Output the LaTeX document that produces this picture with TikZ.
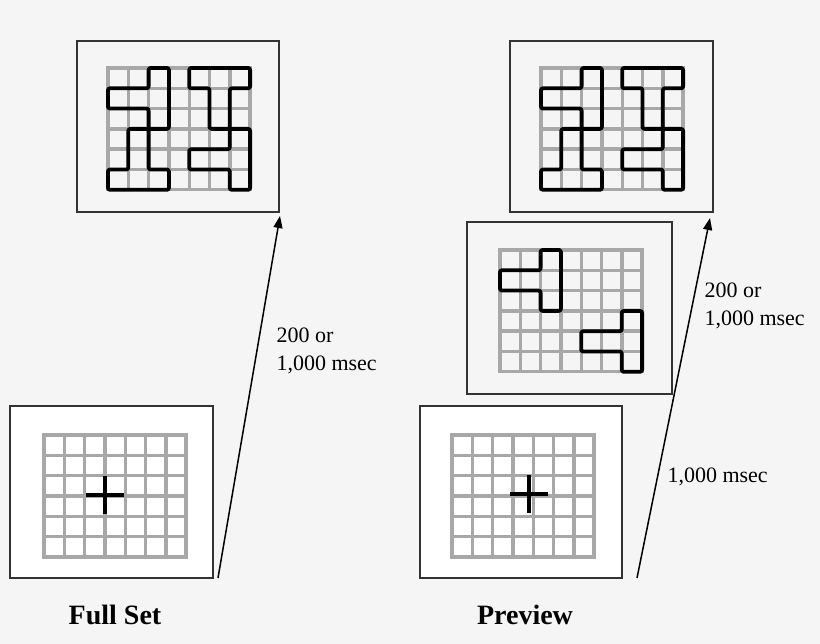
\documentclass[tikz,border=0pt]{standalone}
\usepackage{fontspec}
\setmainfont{Liberation Serif}
\usetikzlibrary{arrows.meta}
\definecolor{bgcol}{HTML}{F5F5F5}
\definecolor{gridcol}{HTML}{A8A8A8}
\tikzset{
  frame/.style={draw=black!80, line width=1.7pt},
  gridline/.style={draw=gridcol, line width=3.4pt},
  piece/.style={draw=black, line width=3.8pt, rounded corners=2pt, line join=round},
  cross/.style={draw=black, line width=3.4pt},
  timing/.style={anchor=west, align=left, font=\fontsize{22}{28}\selectfont},
  caption/.style={font=\fontsize{28}{32}\selectfont\bfseries}
}
% cell = 20.3 px
\newcommand{\stimgrid}[2]{%
  \begin{scope}[shift={(#1,#2)}, x=20.3pt, y=-20.3pt]
    \foreach \c in {0,...,7} \draw[gridline] (\c,-0.08) -- (\c,6.08);
    \foreach \r in {0,...,6} \draw[gridline] (-0.08,\r) -- (7.08,\r);
  \end{scope}}
\newcommand{\pieceA}{(2,0) -- (3,0) -- (3,3) -- (2,3) -- (2,2) -- (0,2) -- (0,1) -- (2,1) -- cycle}
\newcommand{\pieceB}{(1,3) -- (2,3) -- (2,5) -- (3,5) -- (3,6) -- (0,6) -- (0,5) -- (1,5) -- cycle}
\newcommand{\pieceC}{(4,0) -- (7,0) -- (7,1) -- (6,1) -- (6,3) -- (5,3) -- (5,1) -- (4,1) -- cycle}
\newcommand{\pieceD}{(6,3) -- (7,3) -- (7,6) -- (6,6) -- (6,5) -- (4,5) -- (4,4) -- (6,4) -- cycle}

\begin{document}
\begin{tikzpicture}[x=1pt, y=-1pt]
\fill[bgcol] (0,0) rectangle (820,644);
\useasboundingbox (0,0) rectangle (820,644);

% Full Set
\draw[frame] (77,41) rectangle (279,212);
\stimgrid{108}{68}
\begin{scope}[shift={(108,68)}, x=20.3pt, y=-20.3pt]
  \draw[piece] \pieceA; \draw[piece] \pieceB;
  \draw[piece] \pieceC; \draw[piece] \pieceD;
\end{scope}
\draw[frame, fill=white] (10,406) rectangle (213,578);
\stimgrid{44}{435}
\draw[cross] (86,495) -- (124,495) (105,476) -- (105,514);
\coordinate (fullstart) at (218,578);
\coordinate (fullend) at (280,216);
\draw[line width=1.5pt, -{Triangle[length=12pt, width=9pt]}] (fullstart) -- (fullend);
\node[timing] (fulltime) at (273,351) {200 or\\1,000 msec};
\node[caption] (fullcap) at (115,615) {Full Set};

% Preview
\draw[frame] (510,41) rectangle (713,212);
\stimgrid{541}{68}
\begin{scope}[shift={(541,68)}, x=20.3pt, y=-20.3pt]
  \draw[piece] \pieceA; \draw[piece] \pieceB;
  \draw[piece] \pieceC; \draw[piece] \pieceD;
\end{scope}
\draw[frame] (467,222) rectangle (672,394);
\stimgrid{500}{250}
\begin{scope}[shift={(500,250)}, x=20.3pt, y=-20.3pt]
  \draw[piece] \pieceA; \draw[piece] \pieceD;
\end{scope}
\draw[frame, fill=white] (420,406) rectangle (622,578);
\stimgrid{452}{435}
\draw[cross] (510,494) -- (548,494) (529,475) -- (529,513);
\coordinate (prevstart) at (637,578);
\coordinate (prevend) at (710,218);
\draw[line width=1.5pt, -{Triangle[length=12pt, width=9pt]}] (prevstart) -- (prevend);
\node[timing] (prevtime) at (701,306) {200 or\\1,000 msec};
\node[timing] (cuetime) at (664,477) {1,000 msec};
\node[caption] (prevcap) at (525,615) {Preview};
\end{tikzpicture}
\end{document}
